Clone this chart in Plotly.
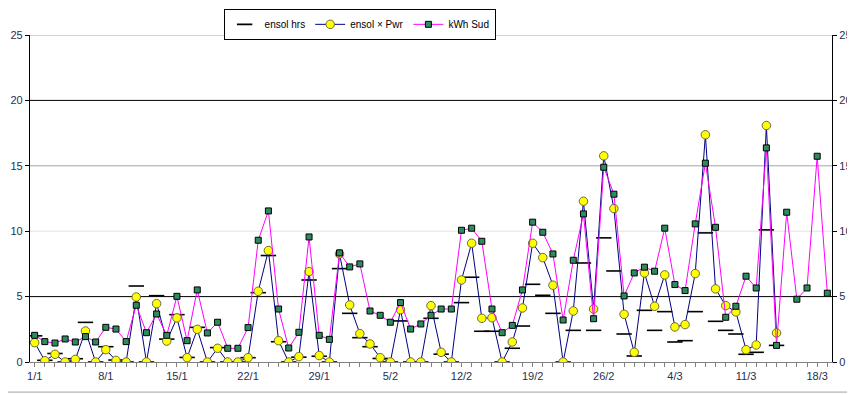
import pandas as pd
import plotly.graph_objects as go

# ---- data ----
start_date = "2008-01-01"
n_days = 79
dates = list(pd.date_range(start_date, periods=n_days, freq="D"))

tick_dates = ["2008-01-01", "2008-01-08", "2008-01-15", "2008-01-22", "2008-01-29", "2008-02-05",
              "2008-02-12", "2008-02-19", "2008-02-26", "2008-03-04", "2008-03-11", "2008-03-18"]
tick_labels = ["1/1", "8/1", "15/1", "22/1", "29/1", "5/2", "12/2", "19/2", "26/2", "4/3", "11/3", "18/3"]

ensol_hrs = [2.0, 0.13, 0.65, 0, 0.25, 3.03, 0, 1.17, 0.15, 0, 5.81, 0, 5.07, 1.75, 3.62, 0.35, 2.65, 0,
             1.1, 0, 0, 0.33, 5.3, 8.14, 1.55, 0, 0.37, 6.27, 0.44, 0, 7.14, 3.72, 1.86, 1.17, 0.27, 0,
             3.14, 0, 0, 3.34, 0.6, 0, 4.54, 6.48, 2.35, 2.35, 0, 1.05, 2.75, 5.94, 5.1, 3.72, 0, 2.42,
             7.57, 2.42, 9.49, 6.96, 2.14, 0.46, 3.95, 2.42, 3.85, 1.53, 1.63, 3.85, 9.87, 3.11, 2.42,
             2.14, 0.59, 0.74, 10.1, 1.27]

ensol_pwr = [1.48, 0.1, 0.59, 0, 0.2, 2.37, 0, 0.94, 0.12, 0, 4.97, 0, 4.46, 1.6, 3.37, 0.33, 2.5, 0,
             1.05, 0, 0, 0.33, 5.41, 8.52, 1.63, 0, 0.41, 6.91, 0.49, 0, 8.26, 4.36, 2.17, 1.38, 0.33, 0,
             4.0, 0, 0, 4.31, 0.74, 0, 6.27, 9.08, 3.34, 3.39, 0, 1.53, 4.13, 9.08, 7.98, 5.87, 0, 3.9,
             12.29, 4.05, 15.76, 11.73, 3.65, 0.74, 6.81, 4.26, 6.66, 2.68, 2.86, 6.76, 17.37, 5.59, 4.31,
             3.83, 0.94, 1.3, 18.08, 2.22]

kwh_sud = [2.04, 1.56, 1.45, 1.76, 1.53, 1.94, 1.53, 2.65, 2.52, 1.56, 4.34, 2.24, 3.67, 2.04, 5.02, 1.63,
           5.51, 2.22, 3.04, 1.05, 1.05, 2.63, 9.31, 11.55, 4.05, 1.07, 2.27, 9.56, 2.04, 1.73, 8.34, 7.27,
           7.5, 3.9, 3.57, 3.04, 4.54, 2.52, 2.91, 3.57, 4.05, 4.05, 10.07, 10.23, 9.23, 4.05, 2.24, 2.8,
           5.51, 10.69, 9.92, 8.26, 3.21, 7.78, 11.32, 3.31, 14.89, 12.83, 5.05, 6.81, 7.25, 6.94, 10.23,
           5.92, 5.46, 10.56, 15.2, 10.3, 3.42, 4.26, 6.56, 5.66, 16.37, 1.27, 11.45, 4.8, 5.66, 15.73, 5.26]

y_ticks = [0, 5, 10, 15, 20, 25]
grid_levels = [5, 10, 15, 20, 25]
grid_colors = ["#000000", "#e2e2e2", "#a6a6a6", "#000000", "#a6a6a6"]

# ---- figure ----
font_family = "Liberation Sans, Arial, sans-serif"
fig = go.Figure()

fig.add_trace(go.Scatter(
    x=dates[:len(ensol_hrs)], y=ensol_hrs, name="ensol hrs", mode="markers",
    marker=dict(symbol="line-ew", size=11, line=dict(color="#000000", width=1.6)),
    hoverinfo="x+y"))

fig.add_trace(go.Scatter(
    x=dates[:len(ensol_pwr)], y=ensol_pwr, name="ensol × Pwr", mode="lines+markers",
    line=dict(color="#000080", width=1),
    marker=dict(symbol="circle", size=8.5, color="#ffff00", line=dict(color="#6b6b3a", width=1))))

fig.add_trace(go.Scatter(
    x=dates, y=kwh_sud, name="kWh Sud", mode="lines+markers",
    line=dict(color="#ff00ff", width=1),
    marker=dict(symbol="square", size=6, color="#2e8b5f", line=dict(color="#000000", width=1))))

# invisible trace to show the secondary (right) axis
fig.add_trace(go.Scatter(
    x=dates, y=kwh_sud, yaxis="y2", mode="lines", line=dict(color="rgba(0,0,0,0)"),
    showlegend=False, hoverinfo="skip"))

x0 = pd.Timestamp(dates[0]) - pd.Timedelta(hours=11)
x1 = pd.Timestamp(dates[-1]) + pd.Timedelta(hours=11)

shapes = []
for lvl, col in zip(grid_levels, grid_colors):
    shapes.append(dict(type="line", xref="paper", yref="y", x0=0, x1=1, y0=lvl, y1=lvl,
                       line=dict(color=col, width=1), layer="below"))
# bottom border of the chart area
shapes.append(dict(type="line", xref="paper", yref="paper", x0=-0.03, x1=1.03, y0=-0.092, y1=-0.092,
                   line=dict(color="#a0a0a0", width=1)))

fig.update_layout(
    width=847, height=387,
    margin=dict(l=22, r=23, t=27, b=33, autoexpand=False),
    paper_bgcolor="#ffffff", plot_bgcolor="#ffffff",
    font=dict(family=font_family, size=11, color="#111111"),
    showlegend=True,
    legend=dict(orientation="h", x=0.411, y=1.08, xanchor="center", yanchor="top",
                bordercolor="#000000", borderwidth=1, bgcolor="#ffffff",
                font=dict(size=10, family=font_family, color="#000000"), itemwidth=30,
                tracegroupgap=0),
    shapes=shapes,
    xaxis=dict(type="date", range=[x0, x1], tickvals=tick_dates, ticktext=tick_labels,
               showgrid=False, zeroline=False, showline=True, linecolor="#808080", linewidth=1,
               ticks="outside", ticklen=4, tickcolor="#808080",
               minor=dict(dtick=86400000, tick0="2008-01-01", ticks="outside", ticklen=4,
                          tickcolor="#808080", showgrid=False),
               tickfont=dict(size=11, color="#1f2f4f")),
    yaxis=dict(range=[0, 25], tickvals=y_ticks, showgrid=False, zeroline=False,
               showline=True, linecolor="#000000", linewidth=1.3,
               ticks="outside", ticklen=4, tickcolor="#000000",
               tickfont=dict(size=11, color="#1f2f4f")),
    yaxis2=dict(range=[0, 25], tickvals=y_ticks, overlaying="y", side="right", showgrid=False,
                zeroline=False, showline=True, linecolor="#000000", linewidth=1.3,
                ticks="outside", ticklen=4, tickcolor="#000000",
                tickfont=dict(size=11, color="#1f2f4f")),
)

fig.write_html("out.html")
